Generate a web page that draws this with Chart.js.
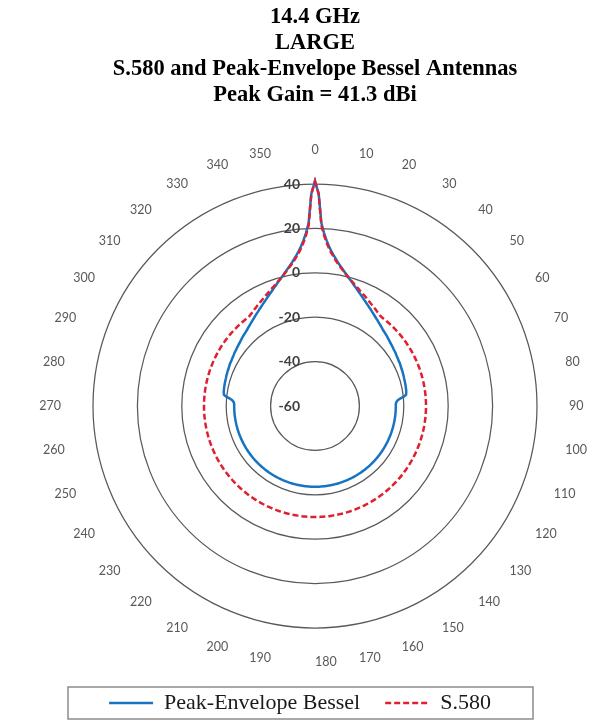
<!DOCTYPE html>
<html>
<head>
<meta charset="utf-8">
<script src="https://cdn.jsdelivr.net/npm/chart.js@4.4.1/dist/chart.umd.min.js"></script>
<style>
  html, body { margin: 0; padding: 0; background: #fff; }
  #wrap { width: 600px; height: 721px; position: relative; }
</style>
</head>
<body>
<div id="wrap"><canvas id="polar-chart"></canvas></div>
<script>
const titleLines = ['14.4 GHz', 'LARGE', 'S.580 and Peak-Envelope Bessel Antennas', 'Peak Gain = 41.3 dBi'];

// one category per degree, 0 at the top, clockwise
const angles = Array.from({ length: 360 }, (_, i) => i);
const angleTicks = [0, 10, 20, 30, 40, 50, 60, 70, 80, 90, 100, 110, 120, 130, 140, 150, 160, 170,
  180, 190, 200, 210, 220, 230, 240, 250, 260, 270, 280, 290, 300, 310, 320, 330, 340, 350];
const radialTicks = [-60, -40, -20, 0, 20, 40];

// gain in dBi, 10 values per line
const besselGain = [
  41.3, 35.5, 22.5, 18, 14.8, 12.2, 10.2, 8.5, 7, 5.6,
  4.4, 3.3, 2.3, 1.3, 0.4, -0.5, -1.3, -2.1, -2.9, -3.6,
  -4.3, -5, -5.6, -6.2, -6.8, -7.4, -7.9, -8.4, -8.9, -9.4,
  -9.8, -10.3, -10.7, -11.1, -11.5, -11.9, -12.2, -12.6, -12.9, -13.2,
  -13.5, -13.8, -14.1, -14.3, -14.5, -14.7, -14.9, -15.1, -15.3, -15.5,
  -15.7, -15.8, -16, -16.1, -16.3, -16.4, -16.5, -16.6, -16.8, -16.9,
  -17, -17.1, -17.2, -17.2, -17.3, -17.4, -17.5, -17.6, -17.6, -17.7,
  -17.8, -17.8, -17.9, -18, -18, -18.1, -18.1, -18.2, -18.2, -18.3,
  -18.3, -18.4, -18.5, -18.7, -19.8, -21.5, -22.6, -23.2, -23.5, -23.6,
  -23.6, -23.6, -23.6, -23.6, -23.6, -23.6, -23.6, -23.6, -23.6, -23.6,
  -23.6, -23.6, -23.6, -23.6, -23.6, -23.6, -23.6, -23.6, -23.6, -23.6,
  -23.6, -23.6, -23.6, -23.6, -23.6, -23.6, -23.6, -23.6, -23.6, -23.6,
  -23.6, -23.6, -23.6, -23.6, -23.6, -23.6, -23.6, -23.6, -23.6, -23.6,
  -23.6, -23.6, -23.6, -23.6, -23.6, -23.6, -23.6, -23.6, -23.6, -23.6,
  -23.6, -23.6, -23.6, -23.6, -23.6, -23.6, -23.6, -23.6, -23.6, -23.6,
  -23.6, -23.6, -23.6, -23.6, -23.6, -23.6, -23.6, -23.6, -23.6, -23.6,
  -23.6, -23.6, -23.6, -23.6, -23.6, -23.6, -23.6, -23.6, -23.6, -23.6,
  -23.6, -23.6, -23.6, -23.6, -23.6, -23.6, -23.6, -23.6, -23.6, -23.6,
  -23.6, -23.6, -23.6, -23.6, -23.6, -23.6, -23.6, -23.6, -23.6, -23.6,
  -23.6, -23.6, -23.6, -23.6, -23.6, -23.6, -23.6, -23.6, -23.6, -23.6,
  -23.6, -23.6, -23.6, -23.6, -23.6, -23.6, -23.6, -23.6, -23.6, -23.6,
  -23.6, -23.6, -23.6, -23.6, -23.6, -23.6, -23.6, -23.6, -23.6, -23.6,
  -23.6, -23.6, -23.6, -23.6, -23.6, -23.6, -23.6, -23.6, -23.6, -23.6,
  -23.6, -23.6, -23.6, -23.6, -23.6, -23.6, -23.6, -23.6, -23.6, -23.6,
  -23.6, -23.6, -23.6, -23.6, -23.6, -23.6, -23.6, -23.6, -23.6, -23.6,
  -23.6, -23.6, -23.6, -23.6, -23.6, -23.6, -23.6, -23.6, -23.6, -23.6,
  -23.6, -23.6, -23.6, -23.6, -23.6, -23.6, -23.6, -23.6, -23.6, -23.6,
  -23.6, -23.6, -23.5, -23.2, -22.6, -21.5, -19.8, -18.7, -18.5, -18.4,
  -18.3, -18.3, -18.2, -18.2, -18.1, -18.1, -18, -18, -17.9, -17.8,
  -17.8, -17.7, -17.6, -17.6, -17.5, -17.4, -17.3, -17.2, -17.2, -17.1,
  -17, -16.9, -16.8, -16.6, -16.5, -16.4, -16.3, -16.1, -16, -15.8,
  -15.7, -15.5, -15.3, -15.1, -14.9, -14.7, -14.5, -14.3, -14.1, -13.8,
  -13.5, -13.2, -12.9, -12.6, -12.2, -11.9, -11.5, -11.1, -10.7, -10.3,
  -9.8, -9.4, -8.9, -8.4, -7.9, -7.4, -6.8, -6.2, -5.6, -5,
  -4.3, -3.6, -2.9, -2.1, -1.3, -0.5, 0.4, 1.3, 2.3, 3.3,
  4.4, 5.6, 7, 8.5, 10.2, 12.2, 14.8, 18, 22.5, 35.5
];

const s580Gain = [
  41.3, 35.5, 21.5, 17.1, 13.9, 11.5, 9.5, 7.9, 6.4, 5.1,
  4, 3, 2, 1.2, 0.3, -0.4, -1.1, -1.8, -2.4, -3,
  -3.5, -4.1, -4.6, -5, -5.5, -5.9, -6.4, -6.8, -7.2, -7.6,
  -7.9, -8.3, -8.6, -9, -9.3, -9.6, -9.9, -10, -10, -10,
  -10, -10, -10, -10, -10, -10, -10, -10, -10, -10,
  -10, -10, -10, -10, -10, -10, -10, -10, -10, -10,
  -10, -10, -10, -10, -10, -10, -10, -10, -10, -10,
  -10, -10, -10, -10, -10, -10, -10, -10, -10, -10,
  -10, -10, -10, -10, -10, -10, -10, -10, -10, -10,
  -10, -10, -10, -10, -10, -10, -10, -10, -10, -10,
  -10, -10, -10, -10, -10, -10, -10, -10, -10, -10,
  -10, -10, -10, -10, -10, -10, -10, -10, -10, -10,
  -10, -10, -10, -10, -10, -10, -10, -10, -10, -10,
  -10, -10, -10, -10, -10, -10, -10, -10, -10, -10,
  -10, -10, -10, -10, -10, -10, -10, -10, -10, -10,
  -10, -10, -10, -10, -10, -10, -10, -10, -10, -10,
  -10, -10, -10, -10, -10, -10, -10, -10, -10, -10,
  -10, -10, -10, -10, -10, -10, -10, -10, -10, -10,
  -10, -10, -10, -10, -10, -10, -10, -10, -10, -10,
  -10, -10, -10, -10, -10, -10, -10, -10, -10, -10,
  -10, -10, -10, -10, -10, -10, -10, -10, -10, -10,
  -10, -10, -10, -10, -10, -10, -10, -10, -10, -10,
  -10, -10, -10, -10, -10, -10, -10, -10, -10, -10,
  -10, -10, -10, -10, -10, -10, -10, -10, -10, -10,
  -10, -10, -10, -10, -10, -10, -10, -10, -10, -10,
  -10, -10, -10, -10, -10, -10, -10, -10, -10, -10,
  -10, -10, -10, -10, -10, -10, -10, -10, -10, -10,
  -10, -10, -10, -10, -10, -10, -10, -10, -10, -10,
  -10, -10, -10, -10, -10, -10, -10, -10, -10, -10,
  -10, -10, -10, -10, -10, -10, -10, -10, -10, -10,
  -10, -10, -10, -10, -10, -10, -10, -10, -10, -10,
  -10, -10, -10, -10, -10, -10, -10, -10, -10, -10,
  -10, -10, -10, -10, -9.9, -9.6, -9.3, -9, -8.6, -8.3,
  -7.9, -7.6, -7.2, -6.8, -6.4, -5.9, -5.5, -5, -4.6, -4.1,
  -3.5, -3, -2.4, -1.8, -1.1, -0.4, 0.3, 1.2, 2, 3,
  4, 5.1, 6.4, 7.9, 9.5, 11.5, 13.9, 17.1, 21.5, 35.5
];

// title, angle labels, dB labels and the legend frame
const polarText = {
  id: 'polarText',
  afterDraw(chart) {
    const ctx = chart.ctx;
    const r = chart.scales.r;
    ctx.save();
    ctx.textBaseline = 'middle';

    ctx.font = 'bold 22.5px "Liberation Serif"';
    ctx.fillStyle = '#000';
    ctx.textAlign = 'center';
    titleLines.forEach((t, i) => ctx.fillText(t, r.xCenter, 17 + i * 26));

    // excel puts each angle label outside the ring, nearest edge to the ring
    ctx.font = '12.5px Lato';
    ctx.fillStyle = '#595959';
    angleTicks.forEach(a => {
      const u = r.getPointPosition(a, 1);
      const dx = u.x - r.xCenter, dy = u.y - r.yCenter;
      const w = ctx.measureText(String(a)).width;
      const sx = dx > 1e-9 || dy > 0.999 ? 1 : (dx < -1e-9 ? -1 : 0);
      ctx.fillText(String(a), r.xCenter + 254 * dx + sx * w / 2, r.yCenter + 256 * dy);
    });

    ctx.font = 'bold 14px Lato';
    ctx.fillStyle = '#404040';
    ctx.textAlign = 'right';
    radialTicks.forEach(v => {
      ctx.fillText(String(v), r.xCenter - 15, r.yCenter - r.getDistanceFromCenterForValue(v));
    });

    ctx.strokeStyle = '#8c8c8c';
    ctx.lineWidth = 1.5;
    ctx.strokeRect(68, 687, 465, 32);
    ctx.restore();
  }
};

new Chart(document.getElementById('polar-chart'), {
  type: 'radar',
  data: {
    labels: angles,
    datasets: [
      {
        label: 'Peak-Envelope Bessel',
        data: besselGain,
        borderColor: '#1874C3',
        backgroundColor: 'transparent',
        borderWidth: 2.5,
        pointRadius: 0,
        pointHitRadius: 0,
        fill: false,
        clip: false,
        order: 1
      },
      {
        label: 'S.580',
        data: s580Gain,
        borderColor: '#E02030',
        backgroundColor: 'transparent',
        borderWidth: 2.5,
        borderDash: [6, 3],
        pointRadius: 0,
        pointHitRadius: 0,
        fill: false,
        clip: false,
        order: 0
      }
    ]
  },
  options: {
    responsive: true,
    maintainAspectRatio: false,
    animation: false,
    layout: { padding: { bottom: -3 } },
    plugins: {
      title: { display: false },
      legend: {
        position: 'bottom',
        labels: {
          usePointStyle: true,
          pointStyle: 'line',
          pointStyleWidth: 44,
          padding: 25,
          color: '#1a1a1a',
          font: { family: 'Liberation Serif', size: 22 },
          sort: (a, b) => a.datasetIndex - b.datasetIndex,
          generateLabels(chart) {
            const items = Chart.defaults.plugins.legend.labels.generateLabels(chart);
            items.forEach(it => {
              const ds = chart.data.datasets[it.datasetIndex];
              it.strokeStyle = ds.borderColor;
              it.lineWidth = ds.borderWidth;
              it.lineDash = ds.borderDash || [];
            });
            return items;
          }
        }
      },
      tooltip: { enabled: false }
    },
    scales: {
      r: {
        min: -60,
        max: 40,
        ticks: { stepSize: 20, display: false },
        grid: { circular: true, color: '#595959', lineWidth: 1.25 },
        angleLines: { display: false },
        pointLabels: { display: false },
        afterFit(scale) {
          scale.drawingArea = 222;
          scale.xCenter = 315;
          scale.yCenter = 406;
        }
      }
    }
  },
  plugins: [polarText]
});
</script>
</body>
</html>
